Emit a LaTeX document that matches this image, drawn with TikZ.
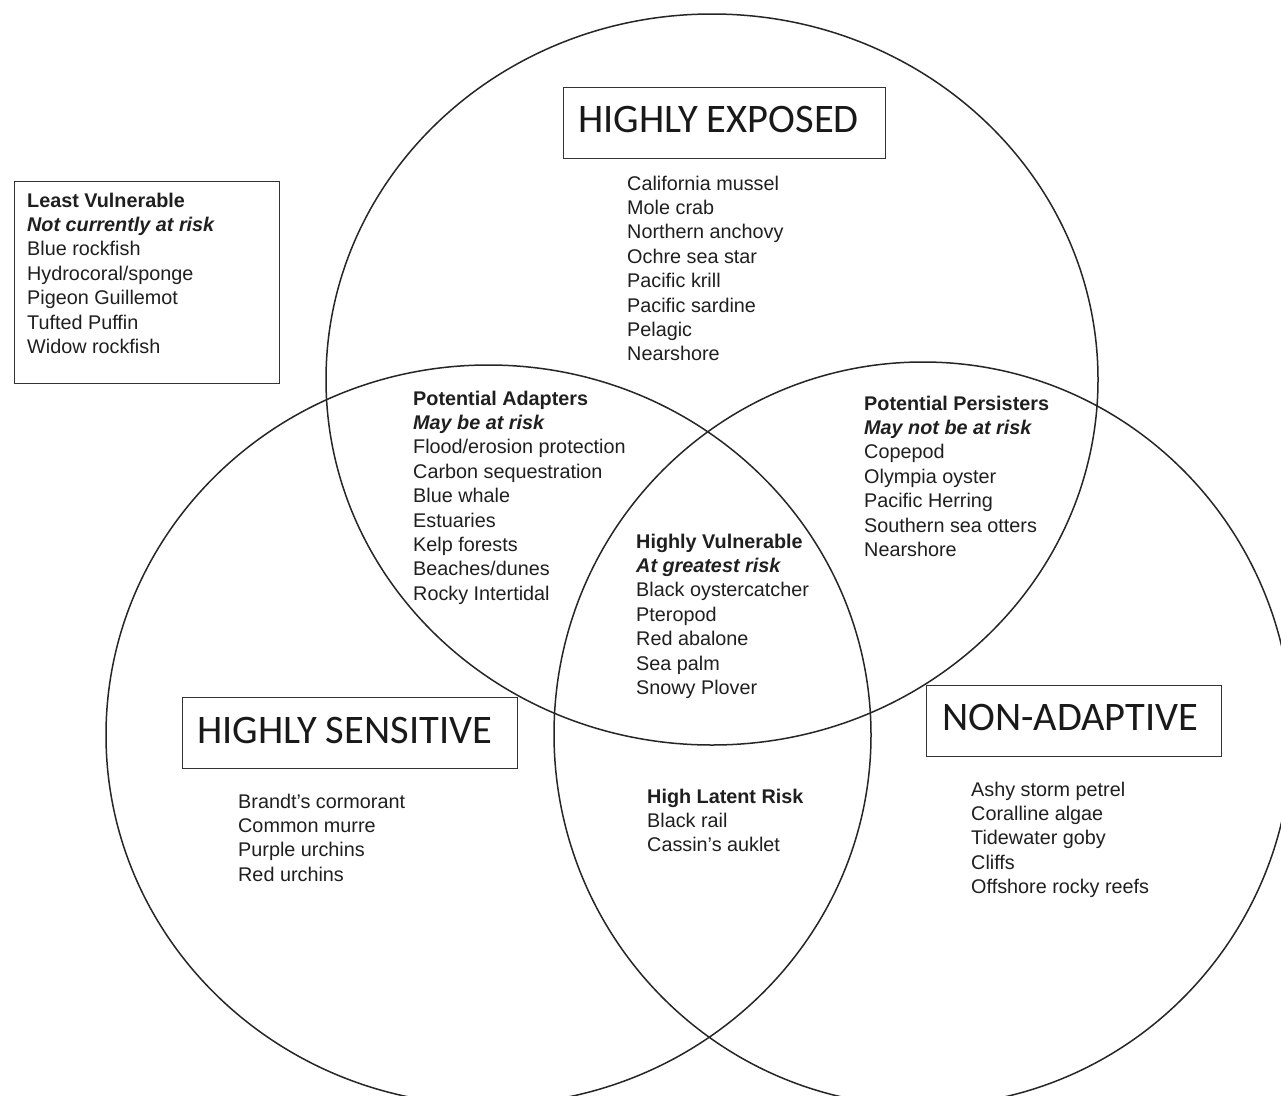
\documentclass[tikz,border=0pt]{standalone}
\usepackage{fontspec}
\setmainfont{Liberation Sans}
\newfontfamily\titlefont{Carlito}
\newcommand\listblock[1]{\parbox[t]{330pt}{\fontsize{19.8}{24.4}\selectfont #1}}
\begin{document}
\begin{tikzpicture}[x=1pt,y=-1pt,
  ring/.style={draw=black!85, line width=1.5pt},
  framebox/.style={draw=black!80, line width=1.4pt, inner sep=0pt, anchor=north west},
  bigtitle/.style={font=\titlefont\fontsize{40.5}{48}\selectfont, inner sep=0pt, anchor=base west, text=black!90},
  listtext/.style={inner sep=0pt, anchor=base west, text=black!88}]
\useasboundingbox (0,0) rectangle (1281,1095);
\clip (0,0) rectangle (1281,1095);
\fill[white] (0,0) rectangle (1281,1095);

% circles
\draw[ring] (712,379.5) ellipse [x radius=386pt, y radius=365.5pt];
\draw[ring] (488.5,735) ellipse [x radius=382.5pt, y radius=370pt];
\draw[ring] (923,734) ellipse [x radius=369pt, y radius=372pt];

% least vulnerable box
\node[framebox, minimum width=265pt, minimum height=202pt] (leastbox) at (14,181) {};
\node[listtext] (least) at (27,207) {\listblock{\textbf{Least Vulnerable}\\
\textbf{\textit{Not currently at risk}}\\
Blue rockfish\\
Hydrocoral/sponge\\
Pigeon Guillemot\\
Tufted Puffin\\
Widow rockfish}};

% highly exposed
\node[framebox, minimum width=322pt, minimum height=71pt] (exbox) at (563,87) {};
\node[bigtitle] (extitle) at (578,132.5) {HIGHLY EXPOSED};
\node[listtext] (exlist) at (627,190) {\listblock{California mussel\\
Mole crab\\
Northern anchovy\\
Ochre sea star\\
Pacific krill\\
Pacific sardine\\
Pelagic\\
Nearshore}};

% potential adapters
\node[listtext] (adapt) at (413,405) {\listblock{\textbf{Potential Adapters}\\
\textbf{\textit{May be at risk}}\\
Flood/erosion protection\\
Carbon sequestration\\
Blue whale\\
Estuaries\\
Kelp forests\\
Beaches/dunes\\
Rocky Intertidal}};

% potential persisters
\node[listtext] (persist) at (864,410) {\listblock{\textbf{Potential Persisters}\\
\textbf{\textit{May not be at risk}}\\
Copepod\\
Olympia oyster\\
Pacific Herring\\
Southern sea otters\\
Nearshore}};

% highly vulnerable
\node[listtext] (vuln) at (636,548) {\listblock{\textbf{Highly Vulnerable}\\
\textbf{\textit{At greatest risk}}\\
Black oystercatcher\\
Pteropod\\
Red abalone\\
Sea palm\\
Snowy Plover}};

% highly sensitive
\node[framebox, minimum width=335pt, minimum height=71pt] (sensbox) at (182,697) {};
\node[bigtitle] (senstitle) at (197,743) {HIGHLY SENSITIVE};
\node[listtext] (senslist) at (238,808) {\listblock{Brandt’s cormorant\\
Common murre\\
Purple urchins\\
Red urchins}};

% high latent risk
\node[listtext] (latent) at (647,803) {\listblock{\textbf{High Latent Risk}\\
Black rail\\
Cassin’s auklet}};

% non-adaptive
\node[framebox, minimum width=295pt, minimum height=71pt] (nonbox) at (926,685) {};
\node[bigtitle] (nontitle) at (942,730.5) {NON-ADAPTIVE};
\node[listtext] (nonlist) at (971,796) {\listblock{Ashy storm petrel\\
Coralline algae\\
Tidewater goby\\
Cliffs\\
Offshore rocky reefs}};
\end{tikzpicture}
\end{document}
